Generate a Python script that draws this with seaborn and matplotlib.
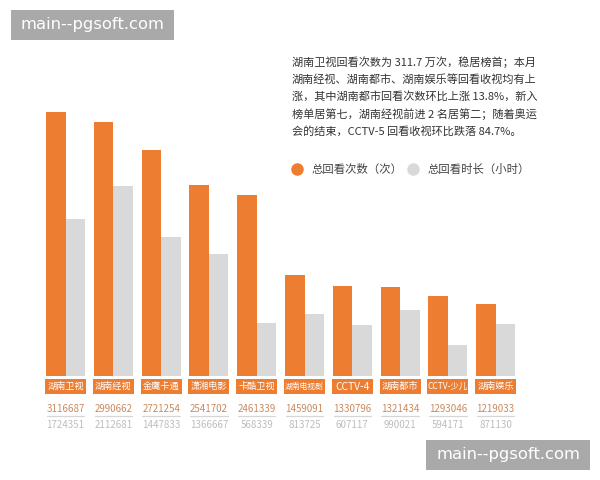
import matplotlib
matplotlib.use("Agg")
import matplotlib.pyplot as plt
import pandas as pd
import seaborn as sns
from matplotlib.lines import Line2D
from matplotlib.patches import Rectangle

channels = ["湖南卫视", "湖南经视", "金鹰卡通", "潇湘电影", "卡酷卫视",
            "湖南电视剧", "CCTV-4", "湖南都市", "CCTV-少儿", "湖南娱乐"]
count_labels = ["3116687", "2990662", "2721254", "2541702", "2461339",
                "1459091", "1330796", "1321434", "1293046", "1219033"]
hour_labels = ["1724351", "2112681", "1447833", "1366667", "568339",
               "813725", "607117", "990021", "594171", "871130"]

# the drawn bars are not proportional to the printed numbers, so heights are read off the picture
count_heights = [264, 254, 226, 191, 181, 101, 90, 89, 80, 72]
hour_heights = [157, 190, 139, 122, 53, 62, 51, 66, 31, 52]

series_names = ["总回看次数（次）", "总回看时长（小时）"]
note_lines = ["湖南卫视回看次数为 311.7 万次，稳居榜首；本月",
              "湖南经视、湖南都市、湖南娱乐等回看收视均有上",
              "涨，其中湖南都市回看次数环比上涨 13.8%，新入",
              "榜单居第七，湖南经视前进 2 名居第二；随着奥运",
              "会的结束，CCTV-5 回看收视环比跌落 84.7%。"]
watermark = "main--pgsoft.com"

ORANGE = "#ED7D31"
GREY = "#D9D9D9"

# font size per box label, the long ones are squeezed
label_sizes = {"湖南电视剧": 5.6, "CCTV-4": 7.4, "CCTV-少儿": 6}

sns.set_theme(style="white")
plt.rcParams["font.family"] = ["Noto Sans CJK SC", "DejaVu Sans"]

df = pd.DataFrame({"channel": channels, series_names[0]: count_heights, series_names[1]: hour_heights})
df = df.melt(id_vars="channel", var_name="series", value_name="height")

fig = plt.figure(figsize=(6, 4.8), dpi=100)
ax = fig.add_axes([0, 0, 1, 1])
sns.barplot(data=df, x="channel", y="height", hue="series", palette=[ORANGE, GREY],
            width=0.82, gap=0, saturation=1, linewidth=0, legend=False, ax=ax)

# one category = 47.8 px, first pair centred at x=65.5, baseline at y=376
ax.set_xlim(-65.5 / 47.8, (600 - 65.5) / 47.8)
ax.set_ylim(-104, 376)
ax.axis("off")

for i, name in enumerate(channels):
    ax.add_patch(Rectangle((i - 0.43, -18), 0.86, 15, color=ORANGE, lw=0))
    ax.text(i, -10.5, name, color="white", fontsize=label_sizes.get(name, 6.6), ha="center", va="center")
    ax.text(i, -33, count_labels[i], color="#C98A5E", fontsize=7, ha="center", va="center")
    ax.plot([i - 0.39, i + 0.39], [-40, -40], color="#D5D5DC", lw=0.9)
    ax.text(i, -49.5, hour_labels[i], color="#BDBDBD", fontsize=7, ha="center", va="center")

for i, line in enumerate(note_lines):
    fig.text(292 / 600, 1 - (62 + i * 17.4) / 480, line, color="#333333", fontsize=8, va="center")

handles = [Line2D([], [], marker="o", ls="", color=ORANGE, markersize=8),
           Line2D([], [], marker="o", ls="", color=GREY, markersize=8)]
ax.legend(handles, series_names, ncol=2, frameon=False, fontsize=8.2, labelcolor="#444444",
          loc="center left", bbox_to_anchor=(281 / 600, 1 - 169 / 480),
          handlelength=1, handletextpad=0.8, columnspacing=0.4)

fig.patches.append(Rectangle((11 / 600, 1 - 40 / 480), 163 / 600, 30 / 480, color="#A9A9A9",
                             lw=0, transform=fig.transFigure))
fig.patches.append(Rectangle((426 / 600, 1 - 470 / 480), 164 / 600, 30 / 480, color="#A9A9A9",
                             lw=0, transform=fig.transFigure))
fig.text(92.5 / 600, 1 - 25 / 480, watermark, color="white", fontsize=11.8, ha="center", va="center",
         family="DejaVu Sans")
fig.text(508 / 600, 1 - 455 / 480, watermark, color="white", fontsize=11.8, ha="center", va="center",
         family="DejaVu Sans")

fig.savefig("out.png", dpi=100)
